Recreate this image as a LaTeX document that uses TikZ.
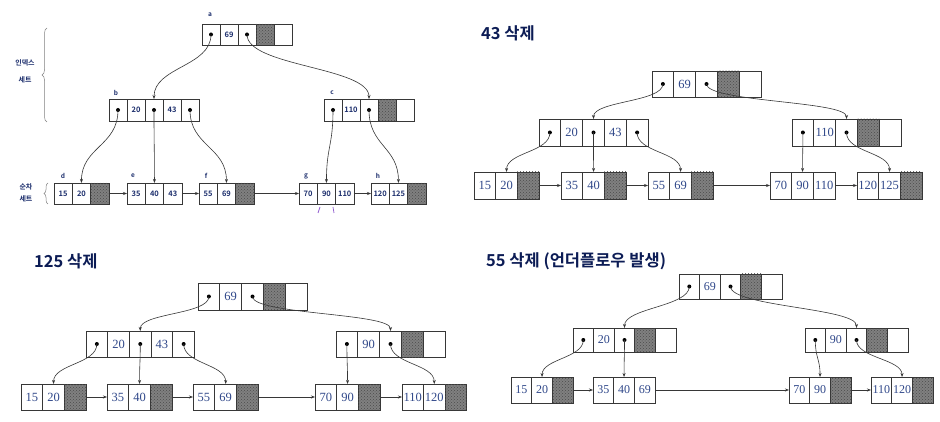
\documentclass[tikz,border=0pt]{standalone}
\usepackage{fontspec}
\usepackage{ifthen}
\setmainfont{Liberation Serif}
\newfontfamily\kr{Noto Sans CJK KR}[BoldFont={Noto Sans CJK KR Bold}]
\usetikzlibrary{arrows.meta,decorations.pathreplacing,calc,patterns}
\definecolor{pnavy}{RGB}{30,48,110}
\definecolor{snum}{RGB}{48,72,138}
\definecolor{tnavy}{RGB}{12,28,85}
\definecolor{linegray}{RGB}{55,55,55}
\definecolor{shadegray}{RGB}{128,128,128}
\definecolor{shadedot}{RGB}{75,75,75}
\definecolor{markpurple}{RGB}{150,100,210}
\tikzset{
  cellbox/.style={draw=linegray, line width=0.7pt, inner sep=0pt, outer sep=0pt},
  shd/.style={fill=shadegray, postaction={pattern=crosshatch dots, pattern color=shadedot}},
  conn/.style={draw=linegray, line width=0.6pt, -{Stealth[length=4pt,width=3pt]}},
  ptxt/.style={font=\kr\bfseries\fontsize{7.5}{8}\selectfont, text=pnavy},
  stxt/.style={font=\fontsize{12.5}{13}\selectfont, text=snum},
  s4txt/.style={font=\fontsize{12}{13}\selectfont, text=snum},
  lbl/.style={font=\kr\bfseries\fontsize{6.5}{7}\selectfont, text=pnavy, inner sep=0pt},
  side/.style={font=\kr\bfseries\fontsize{7}{8}\selectfont, text=pnavy, inner sep=0pt},
  ttl/.style={font=\kr\bfseries\fontsize{16.5}{18}\selectfont, text=tnavy, inner sep=0pt, anchor=west},
  bracestyle/.style={draw=gray, line width=0.5pt, decorate},
  pmark/.style={draw=markpurple, line width=0.8pt}
}
% #1 name, #2 x left, #3 y top, #4 cell width, #5 cell height, #6 text style, #7 cells
\newcommand\brow[7]{%
  \foreach \c [count=\i] in {#7} {%
    \ifthenelse{\equal{\c}{s}}{%
      \node[cellbox,shd,minimum width=#4pt,minimum height=#5pt] (#1-\i) at ({#2+(\i-0.5)*#4},{#3+#5/2}) {};%
    }{\ifthenelse{\equal{\c}{p}}{%
      \node[cellbox,minimum width=#4pt,minimum height=#5pt] (#1-\i) at ({#2+(\i-0.5)*#4},{#3+#5/2}) {};%
      \fill[black] (#1-\i.center) circle (2);%
    }{\ifthenelse{\equal{\c}{e}}{%
      \node[cellbox,minimum width=#4pt,minimum height=#5pt] (#1-\i) at ({#2+(\i-0.5)*#4},{#3+#5/2}) {};%
    }{%
      \node[cellbox,#6,minimum width=#4pt,minimum height=#5pt] (#1-\i) at ({#2+(\i-0.5)*#4},{#3+#5/2}) {\c};%
    }}}%
  }%
}
% #1 control distance, #2 from cell, #3 to cell
\newcommand\conn[3]{\draw[conn] (#2.center) .. controls ($(#2.center)+(0,#1)$) and ($(#3.north)+(0,-#1)$) .. (#3.north);}
\newcommand\hconn[2]{\draw[conn] (#1.east) -- (#2.west);}
\begin{document}
\begin{tikzpicture}[x=1pt,y=-1pt]
\useasboundingbox (0,0) rectangle (940,422);
\fill[white] (0,0) rectangle (940,422);

% ---------------- Panel 1 ----------------
\brow{a}{202}{24}{18}{21}{ptxt}{p,69,p,s,e}
\brow{b}{109}{99}{18}{22}{ptxt}{p,20,p,43,p}
\brow{c}{324}{99}{18}{22}{ptxt}{p,110,p,s,e}
\brow{d}{54}{183}{18.3}{21}{ptxt}{15,20,s}
\brow{e}{127}{183}{18.3}{21}{ptxt}{35,40,43}
\brow{f}{199}{183}{18.3}{21}{ptxt}{55,69,s}
\brow{g}{299}{183}{18.3}{21}{ptxt}{70,90,110}
\brow{h}{371}{183}{18.3}{21}{ptxt}{120,125,s}
\node[lbl] (la) at (210,15) {a};
\node[lbl] (lb) at (116,93) {b};
\node[lbl] (lc) at (332,93) {c};
\node[lbl] (ld) at (63,176) {d};
\node[lbl] (le) at (133,176) {e};
\node[lbl] (lf) at (206,176) {f};
\node[lbl] (lg) at (306,176) {g};
\node[lbl] (lh) at (378,176) {h};
\conn{32}{a-1}{b-3}
\conn{32}{a-3}{c-3}
\conn{36}{b-1}{d-2}
\conn{36}{b-3}{e-2}
\conn{36}{b-5}{f-2}
\conn{36}{c-1}{g-2}
\conn{36}{c-3}{h-2}
\hconn{d-3}{e-1}
\hconn{e-3}{f-1}
\hconn{f-3}{g-1}
\hconn{g-3}{h-1}
\node[side] (ix1) at (25,63) {인덱스};
\node[side] (ix2) at (25,80) {세트};
\node[side] (sq1) at (26,187) {순차};
\node[side] (sq2) at (26,199) {세트};
\draw[bracestyle, decoration={brace,amplitude=5pt}] (47,122) -- (47,28);
\draw[bracestyle, decoration={brace,amplitude=4pt}] (48,204) -- (48,183);
\draw[pmark] (320,207) -- (318,213);
\draw[pmark] (333,207) -- (334,213);

% ---------------- Panel 2 ----------------
\node[ttl] (t2) at (481,33) {43 삭제};
\brow{qa}{652}{71}{21.8}{26}{stxt}{p,69,p,s,e}
\brow{qb}{539}{119}{21.8}{27}{stxt}{p,20,p,43,p}
\brow{qc}{792}{119}{21.8}{27}{stxt}{p,110,p,s,e}
\brow{qd}{474}{172}{21.7}{27}{stxt}{15,20,s}
\brow{qe}{561}{172}{21.7}{27}{stxt}{35,40,s}
\brow{qf}{648}{172}{21.7}{27}{stxt}{55,69,s}
\brow{qg}{770}{172}{21.7}{27}{stxt}{70,90,110}
\brow{qh}{857}{172}{21.7}{27}{stxt}{120,125,s}
\conn{18}{qa-1}{qb-3}
\conn{18}{qa-3}{qc-3}
\conn{20}{qb-1}{qd-2}
\conn{20}{qb-3}{qe-2}
\conn{20}{qb-5}{qf-2}
\conn{20}{qc-1}{qg-2}
\conn{20}{qc-3}{qh-2}
\hconn{qd-3}{qe-1}
\hconn{qe-3}{qf-1}
\hconn{qf-3}{qg-1}
\hconn{qg-3}{qh-1}

% ---------------- Panel 3 ----------------
\node[ttl] (t3) at (34,261) {125 삭제};
\brow{ra}{198}{283}{21.8}{27}{stxt}{p,69,p,s,e}
\brow{rb}{86}{331}{21.7}{26}{stxt}{p,20,p,43,p}
\brow{rc}{336}{331}{21.8}{26}{stxt}{p,90,p,s,e}
\brow{rd}{21}{384}{21.7}{26}{stxt}{15,20,s}
\brow{re}{107}{384}{21.7}{26}{stxt}{35,40,s}
\brow{rf}{193}{384}{21.8}{26}{stxt}{55,69,s}
\brow{rg}{315}{384}{21.7}{26}{stxt}{70,90,s}
\brow{rh}{402}{384}{21.5}{26}{stxt}{110,120,s}
\conn{18}{ra-1}{rb-3}
\conn{18}{ra-3}{rc-3}
\conn{20}{rb-1}{rd-2}
\conn{20}{rb-3}{re-2}
\conn{20}{rb-5}{rf-2}
\conn{20}{rc-1}{rg-2}
\conn{20}{rc-3}{rh-2}
\hconn{rd-3}{re-1}
\hconn{re-3}{rf-1}
\hconn{rf-3}{rg-1}
\hconn{rg-3}{rh-1}

% ---------------- Panel 4 ----------------
\node[ttl] (t4) at (486,261) {55 삭제 (언더플로우 발생)};
\brow{sa}{679}{274}{20.6}{25}{s4txt}{p,69,p,s,e}
\brow{sb}{573}{328}{20.6}{24}{s4txt}{p,20,p,s,e}
\brow{sc}{805}{328}{20.6}{24}{s4txt}{p,90,p,s,e}
\brow{sd}{511}{377}{20.7}{26}{s4txt}{15,20,s}
\brow{se}{593}{377}{20.7}{26}{s4txt}{35,40,69}
\brow{sf}{789}{377}{20.7}{26}{s4txt}{70,90,s}
\brow{sg}{871}{377}{20.7}{26}{s4txt}{110,120,s}
\conn{20}{sa-1}{sb-3}
\conn{20}{sa-3}{sc-3}
\conn{18}{sb-1}{sd-2}
\conn{18}{sb-3}{se-2}
\conn{18}{sc-1}{sf-2}
\conn{18}{sc-3}{sg-2}
\hconn{sd-3}{se-1}
\hconn{se-3}{sf-1}
\hconn{sf-3}{sg-1}
\end{tikzpicture}
\end{document}
